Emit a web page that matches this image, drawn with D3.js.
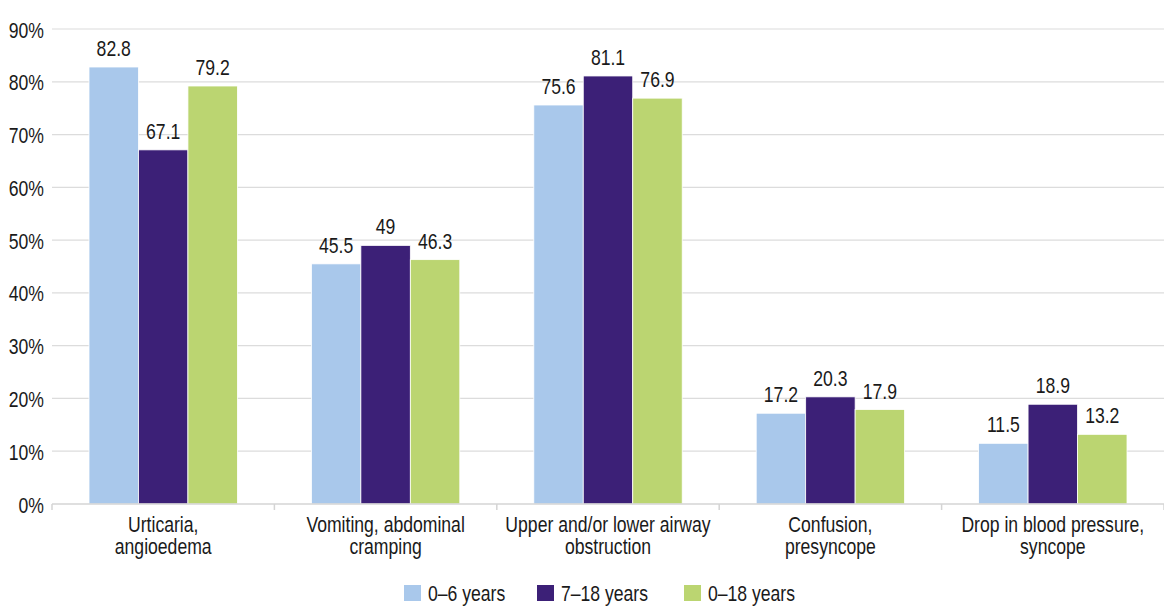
<!DOCTYPE html>
<html>
<head>
<meta charset="utf-8">
<script src="https://cdn.jsdelivr.net/npm/d3@7"></script>
<style>
  html, body { margin: 0; padding: 0; background: #fff; }
  svg { display: block; }
  text { font-family: "Liberation Sans", Arial, sans-serif; font-size: 22px; fill: #1a1a1a; }
</style>
</head>
<body>
<svg id="chart" width="1164" height="606"></svg>
<script>
// Symptom categories (each label split across two lines)
const categories = [
  ["Urticaria,", "angioedema"],
  ["Vomiting, abdominal", "cramping"],
  ["Upper and/or lower airway", "obstruction"],
  ["Confusion,", "presyncope"],
  ["Drop in blood pressure,", "syncope"]
];
const seriesNames = ["0–6 years", "7–18 years", "0–18 years"];
const age0to6   = [82.8, 45.5, 75.6, 17.2, 11.5];
const age7to18  = [67.1, 49, 81.1, 20.3, 18.9];
const age0to18  = [79.2, 46.3, 76.9, 17.9, 13.2];
const yTicks = [0, 10, 20, 30, 40, 50, 60, 70, 80, 90];
const colors = ["#a9c8eb", "#3c2077", "#bbd571"];

const series = [age0to6, age7to18, age0to18];
const svg = d3.select("#chart");
const plot = { left: 52, right: 1164, top: 29, bottom: 504 };
const squeeze = 0.8; // horizontal compression for a condensed look

// Text placed at (x, y), horizontally condensed around its anchor
function label(parent, x, y, str, anchor) {
  return parent.append("text")
    .attr("transform", `translate(${x},${y}) scale(${squeeze},1)`)
    .attr("text-anchor", anchor || "middle")
    .text(str);
}

const x0 = d3.scaleBand().domain(d3.range(categories.length)).range([plot.left, plot.right]);
const x1 = d3.scaleBand().domain(d3.range(series.length))
  .range([37, x0.bandwidth() - 37]);
const y = d3.scaleLinear().domain([0, 90]).range([plot.bottom, plot.top]);

// Horizontal gridlines
svg.append("g").selectAll("line").data(yTicks.filter(t => t > 0)).join("line")
  .attr("x1", plot.left).attr("x2", plot.right)
  .attr("y1", d => y(d)).attr("y2", d => y(d))
  .attr("stroke", "#dcdcdc").attr("stroke-width", 1.2);

// Y axis labels
const yAxis = d3.axisLeft(y).tickValues(yTicks).tickSize(0).tickPadding(8)
  .tickFormat(d => d + "%");
const ya = svg.append("g").attr("transform", `translate(${plot.left},0)`).call(yAxis);
ya.select(".domain").remove();
ya.attr("font-family", null).attr("font-size", null);
ya.selectAll("text")
  .attr("x", null).attr("dy", null)
  .attr("fill", "#1a1a1a")
  .attr("transform", `translate(-8,8) scale(${squeeze},1)`);

// Bars with value labels
const groups = svg.append("g").selectAll("g").data(categories).join("g")
  .attr("transform", (d, i) => `translate(${x0(i)},0)`);

groups.each(function(cat, ci) {
  const g = d3.select(this);
  series.forEach((vals, si) => {
    const v = vals[ci];
    g.append("rect")
      .attr("x", x1(si)).attr("width", x1.bandwidth())
      .attr("y", y(v)).attr("height", y(0) - y(v))
      .attr("fill", colors[si])
      .attr("stroke", "#fff").attr("stroke-width", 0.8);
    label(g, x1(si) + x1.bandwidth() / 2, y(v) - 11, v);
  });
});

// Baseline and category ticks
svg.append("line").attr("x1", plot.left).attr("x2", plot.right)
  .attr("y1", plot.bottom).attr("y2", plot.bottom)
  .attr("stroke", "#d4d4d4").attr("stroke-width", 1.5);
svg.append("g").selectAll("line").data(d3.range(categories.length + 1)).join("line")
  .attr("x1", i => i < categories.length ? x0(i) : plot.right)
  .attr("x2", i => i < categories.length ? x0(i) : plot.right)
  .attr("y1", plot.bottom).attr("y2", plot.bottom + 6)
  .attr("stroke", "#d4d4d4").attr("stroke-width", 1.5);

// Category labels
const catG = svg.append("g");
categories.forEach((lines, i) => {
  lines.forEach((ln, k) => {
    label(catG, x0(i) + x0.bandwidth() / 2, 532 + k * 22, ln);
  });
});

// Legend
const legendX = [404, 537, 684];
const legend = svg.append("g").selectAll("g").data(seriesNames).join("g")
  .attr("transform", (d, i) => `translate(${legendX[i]},585)`);
legend.append("rect").attr("width", 17).attr("height", 16)
  .attr("fill", (d, i) => colors[i]);
legend.each(function(d) {
  label(d3.select(this), 24, 16, d, "start");
});
</script>
</body>
</html>
